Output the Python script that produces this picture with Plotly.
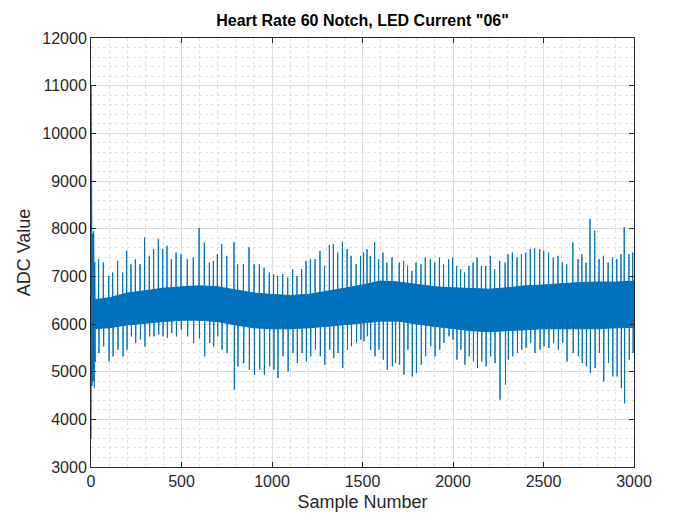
import plotly.graph_objects as go

# ---------------- data ----------------
# initial transient at the start of the recording
start_x = [0, 1, 2, 4, 6, 9, 12, 15, 18, 21, 24]
start_y = [3600, 11000, 4000, 8100, 4700, 7900, 4800, 7950, 4650, 7300, 5200]

# dense noise band: upper / lower edge every 100 samples
band_x = [0, 100, 200, 300, 400, 500, 600, 700, 800, 900, 1000, 1100, 1200, 1300, 1400,
          1500, 1600, 1700, 1800, 1900, 2000, 2100, 2200, 2300, 2400, 2500, 2600, 2700,
          2800, 2900, 3000]
band_hi = [6500, 6550, 6650, 6700, 6750, 6780, 6800, 6780, 6720, 6650, 6620, 6600, 6620,
           6680, 6750, 6820, 6900, 6880, 6830, 6780, 6760, 6740, 6730, 6760, 6800, 6820,
           6850, 6870, 6880, 6880, 6900]
band_lo = [5900, 5920, 5980, 6020, 6050, 6080, 6080, 6050, 5980, 5920, 5900, 5900, 5920,
           5950, 5980, 6020, 6060, 6060, 6000, 5950, 5900, 5860, 5840, 5860, 5880, 5900,
           5900, 5900, 5900, 5920, 5930]

# heart-beat spikes: sample position, peak value, trough value
beat_x = [42, 68, 98, 120, 147, 175, 197, 221, 245, 271, 296, 322, 346, 372, 396, 420, 444,
          470, 497,
          532, 565, 597, 626, 654, 676, 698, 722, 750, 790, 810, 842, 873, 901, 930, 956, 985,
          1009, 1031, 1059, 1087, 1114, 1138, 1164, 1188, 1212, 1238, 1265, 1290, 1317, 1339,
          1363, 1389, 1415, 1437, 1465, 1489,
          1506, 1525, 1543, 1567, 1589, 1613, 1635, 1663, 1681, 1703, 1727, 1749, 1773, 1796,
          1823, 1847, 1875, 1899, 1925, 1948, 1976, 1998,
          2020, 2042, 2064, 2088, 2111, 2133, 2157, 2181, 2206, 2230, 2258, 2288, 2304, 2328,
          2354, 2378, 2402, 2427, 2451, 2479, 2501,
          2528, 2554, 2580, 2604, 2628, 2662, 2691, 2712, 2735, 2757, 2783, 2807, 2831, 2857,
          2881, 2905, 2928, 2946, 2972, 2993]
beat_hi = [7360, 7290, 7010, 7080, 7325, 7080, 7536, 7255, 7360, 7255, 7817, 7430, 7570, 7780,
           7570, 7640, 7360, 7500, 7465,
           7360, 7395, 8014, 7712, 7290, 7325, 7466, 7677, 7430, 7712, 7255, 7255, 7606, 7255,
           7255, 7185, 7080,
           7044, 7009, 7044, 6974, 7150, 7009, 7150, 7325, 7360, 7360, 7536, 7220, 7656, 7677,
           7500, 7726, 7571, 7430, 7255, 7430,
           7500, 7571, 7430, 7712, 7360, 7500, 7290, 7395, 6900, 7290, 7325, 7220, 7114, 7290,
           7255, 7395, 7360, 7290, 7395, 7255, 7360, 7395,
           7220, 7150, 7080, 7220, 7290, 7395, 7220, 7220, 7430, 7150, 7325, 7290, 7466, 7500,
           7395, 7466, 7500, 7571, 7585, 7571, 7536,
           7500, 7395, 7430, 7290, 7255, 7712, 7360, 7466, 7290, 8204, 7958, 7360, 7430, 7290,
           7395, 7360, 7466, 8028, 7466, 7500]
beat_lo = [5390, 5530, 5215, 5320, 5460, 5320, 5460, 5740, 5600, 5670, 5530, 5740, 5740, 5780,
           5740, 5710, 5810, 5740, 5880,
           5740, 5600, 5700, 5320, 5600, 5530, 5740, 5460, 5390, 4620, 5110, 5180, 5040, 4935,
           5040, 4935, 5110,
           5040, 4865, 5322, 5005, 5392, 5181, 5392, 5216, 5322, 5462, 5322, 5146, 5462, 5287,
           5392, 5075, 5462, 5533, 5603, 5673,
           5638, 5743, 5462, 5322, 5462, 5251, 5040, 5110, 5181, 5146, 4935, 5462, 4900, 4970,
           5146, 5322, 5533, 5322, 5462, 5603, 5743, 5673,
           5251, 5462, 5146, 5322, 5216, 5075, 5216, 5110, 5322, 5181, 4412, 4730, 5251, 5322,
           5392, 5462, 5497, 5603, 5392, 5462, 5533,
           5497, 5603, 5462, 5603, 5216, 5392, 5322, 5181, 5110, 4970, 5075, 5392, 4794, 5181,
           4900, 4900, 4654, 4337, 5251, 5392]

TITLE = 'Heart Rate 60 Notch, LED Current "06"'
X_LABEL = "Sample Number"
Y_LABEL = "ADC Value"

# ---------------- figure ----------------
COLOR = "#0072BD"
FONT = "Liberation Sans, Arial, Helvetica, sans-serif"
AX = "#262626"

fig = go.Figure()

# noise band as a filled polygon
fig.add_trace(go.Scatter(
    x=band_x + band_x[::-1],
    y=band_hi + band_lo[::-1],
    fill="toself", fillcolor=COLOR, mode="lines",
    line=dict(color=COLOR, width=1), hoverinfo="skip", showlegend=False))

# spikes: each beat is a short up/down stroke that starts and ends inside the band
sx, sy = [], []
for x, hi, lo in zip(beat_x, beat_hi, beat_lo):
    k = min(x // 100, len(band_x) - 1)
    sx += [x - 1, x, x + 2, x + 3, None]
    sy += [band_hi[k] - 100, hi, lo, band_lo[k] + 100, None]
fig.add_trace(go.Scatter(x=sx, y=sy, mode="lines", line=dict(color=COLOR, width=1),
                         showlegend=False, connectgaps=False))

# start transient
fig.add_trace(go.Scatter(x=start_x, y=start_y, mode="lines",
                         line=dict(color=COLOR, width=1.2), showlegend=False))

axis_common = dict(
    showline=True, linecolor=AX, linewidth=1, mirror="ticks",
    ticks="inside", ticklen=5, tickcolor=AX, tickwidth=1,
    showgrid=True, gridcolor="#dcdcdc", gridwidth=1,
    zeroline=False, automargin=False, tickformat="d",
    tickfont=dict(family=FONT, size=16, color=AX),
)

fig.update_xaxes(
    range=[0, 3000], dtick=500, tick0=0,
    minor=dict(dtick=100, tick0=0, showgrid=True, gridcolor="#e2e2e2",
               griddash="dot", gridwidth=1, ticks=""),
    title=dict(text=X_LABEL, font=dict(family=FONT, size=18, color=AX), standoff=6),
    **axis_common)
fig.update_yaxes(
    range=[3000, 12000], dtick=1000, tick0=0,
    minor=dict(dtick=200, tick0=0, showgrid=True, gridcolor="#e2e2e2",
               griddash="dot", gridwidth=1, ticks=""),
    title=dict(text=Y_LABEL, font=dict(family=FONT, size=18, color=AX), standoff=6),
    **axis_common)

# page body has an 8px margin, so margins are shifted by 8px
fig.update_layout(
    width=700, height=525, autosize=False,
    margin=dict(l=83, r=74, t=30, b=66),
    paper_bgcolor="white", plot_bgcolor="white",
    title=dict(text="<b>" + TITLE + "</b>",
               font=dict(family=FONT, size=16, color="black"),
               x=0.5, xref="paper", xanchor="center",
               y=1 - 12 / 525, yref="container", yanchor="middle"),
    showlegend=False,
)

fig.write_html("out.html")
